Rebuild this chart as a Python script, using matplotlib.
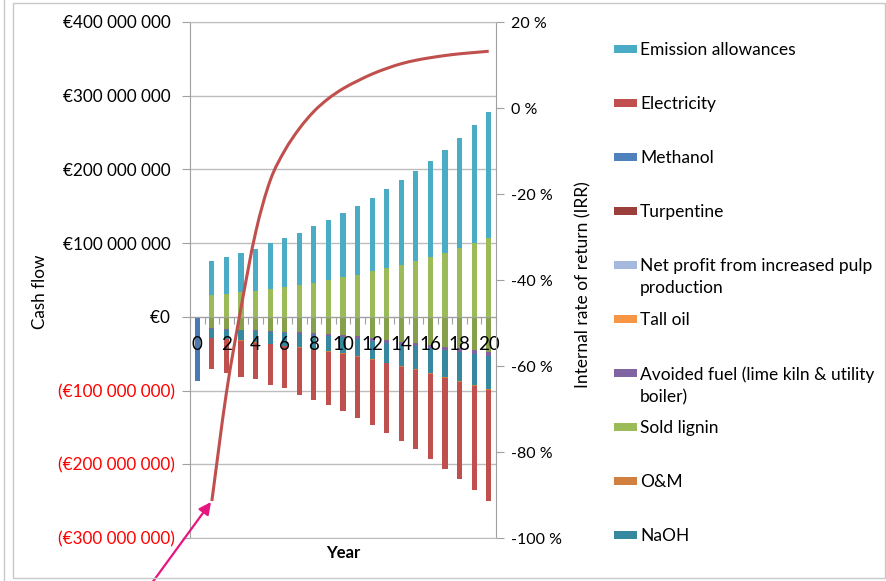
import numpy as np
import matplotlib
matplotlib.use("Agg")
import matplotlib.pyplot as plt
from matplotlib.patches import Rectangle, PathPatch
from matplotlib.path import Path

plt.rcParams['font.family'] = ['Lato', 'DejaVu Sans']

W, H = 887, 581

# ---------------- data (million EUR per year) ----------------
years = list(range(21))
investment = [-87] + [0] * 20
emission_allowances = [0, 46.2, 49.3, 53.4, 57.6, 62.1, 66.2, 71.2, 76.5, 81.5, 86.5,
                       92.8, 99.6, 106.9, 114.2, 121.9, 130.9, 139.9, 149.8, 159.9, 169.8]
sold_lignin = [0, 29.2, 31.5, 33.3, 35.1, 37.8, 40.5, 43.2, 46.5, 49.6, 54.1,
               57.3, 61.8, 65.9, 70.9, 75.4, 80.8, 86.7, 93.1, 100.3, 107.6]
other_costs = [0, -15.7, -16.5, -17.3, -18.2, -19.1, -20.1, -21.1, -22.2, -23.3, -24.6,
               -26.2, -28.5, -31.0, -33.5, -35.5, -38.0, -40.3, -42.6, -45.0, -47.4]
avoided_fuel = [0, -0.5, -0.8, -1.2, -1.5, -1.8, -2.0, -2.3, -2.6, -2.9, -3.1,
                -3.4, -3.7, -4.0, -4.3, -4.6, -4.9, -5.2, -5.5, -5.8, -6.1]
naoh = [0, -12.2, -12.6, -13.5, -14.8, -15.8, -16.8, -18.0, -19.3, -20.5, -22.0,
        -23.5, -25.0, -27.0, -29.0, -31.2, -33.5, -36.0, -38.8, -41.6, -44.7]
o_and_m = [0, -0.4, -0.4, -0.5, -0.5, -0.6, -0.6, -0.7, -0.7, -0.8, -0.8,
           -0.9, -0.9, -1.0, -1.0, -1.1, -1.2, -1.2, -1.3, -1.4, -1.5]
electricity = [0, -42.0, -45.3, -48.8, -49.7, -54.9, -56.9, -63.3, -68.0, -72.5, -76.8,
               -82.7, -89.0, -94.3, -100.7, -107.5, -115.2, -123.3, -132.2, -141.7, -150.4]
methanol = [0] * 21
turpentine = [0] * 21
net_profit_pulp = [0] * 21
tall_oil = [0] * 21

irr = [np.nan, -91.4, -66.2, -46.5, -29.0, -16.9, -9.9, -4.8, -0.8, 2.2, 4.5,
       6.3, 7.9, 9.2, 10.3, 11.1, 11.7, 12.2, 12.6, 12.9, 13.2]

# colours
c_emis, c_elec, c_meth, c_turp = '#4BACC6', '#C0504D', '#4F81BD', '#9C3F3C'
c_net, c_tall, c_avoid, c_lign = '#A5B9DE', '#F79646', '#8064A2', '#9BBB59'
c_om, c_naoh, c_inv, c_other = '#D07F3E', '#35889E', '#4A79B3', '#87A04C'

series = [
    ("Investment", investment, c_inv),
    ("Other costs", other_costs, c_other),
    ("NaOH", naoh, c_naoh),
    ("O&M", o_and_m, c_om),
    ("Sold lignin", sold_lignin, c_lign),
    ("Avoided fuel (lime kiln & utility\nboiler)", avoided_fuel, c_avoid),
    ("Tall oil", tall_oil, c_tall),
    ("Net profit from increased pulp\nproduction", net_profit_pulp, c_net),
    ("Turpentine", turpentine, c_turp),
    ("Methanol", methanol, c_meth),
    ("Electricity", electricity, c_elec),
    ("Emission allowances", emission_allowances, c_emis),
]
neg_order = ["Investment", "Other costs", "Avoided fuel (lime kiln & utility\nboiler)",
             "NaOH", "O&M", "Electricity"]

fig = plt.figure(figsize=(W / 100, H / 100), dpi=100)
ax = fig.add_axes([190 / W, 1 - 538 / H, 306 / W, 516 / H])

x = np.array(years)
pos_bottom = np.zeros(21)
neg_bottom = np.zeros(21)
bw = 0.36
lookup = {s[0]: s for s in series}
for name, vals, col in series:
    v = np.array(vals, dtype=float)
    p = np.where(v > 0, v, 0)
    if p.any():
        ax.bar(x, p, bw, bottom=pos_bottom, color=col, zorder=1, linewidth=0)
        pos_bottom += p
for name in neg_order:
    _, vals, col = lookup[name]
    v = np.array(vals, dtype=float)
    n = np.where(v < 0, v, 0)
    if n.any():
        ax.bar(x, n, bw, bottom=neg_bottom, color=col, zorder=1, linewidth=0)
        neg_bottom += n

ax.set_xlim(-0.5, 20.5)
ax.set_ylim(-300, 400)
gridc = '#BDBDBD'
axc = '#A0A0A0'
yt = np.arange(-300, 401, 100)
for t in yt:
    ax.axhline(t, color=gridc, lw=1, zorder=0)


def eur(v):
    s = f"{int(round(abs(v) * 1e6)):,}".replace(',', ' ')
    return f"(€{s})" if v < 0 else f"€{s} "


ax.set_yticks(yt)
ax.set_yticklabels([eur(t) for t in yt])
for lab, t in zip(ax.get_yticklabels(), yt):
    lab.set_color('#FF0000' if t < 0 else 'black')
ax.tick_params(axis='y', direction='out', length=6, color=axc, pad=5, labelsize=12.3)

ax.spines['bottom'].set_position(('data', 0))
ax.spines['bottom'].set_color(axc)
ax.spines['left'].set_color(axc)
ax.spines['top'].set_visible(False)
ax.spines['right'].set_visible(False)
ax.set_xticks(np.arange(-0.5, 20.6, 1))
ax.set_xticklabels([])
ax.set_xticks(np.arange(0, 21, 2), minor=True)
ax.set_xticklabels([str(v) for v in range(0, 21, 2)], minor=True)
ax.tick_params(axis='x', which='major', direction='out', length=5, color=axc)
ax.tick_params(axis='x', which='minor', length=0, pad=14, labelsize=13.5)

ax2 = ax.twinx()
# smoothed IRR line (Excel-style cubic Bezier through the data points)
pts = np.array([(xx, yy) for xx, yy in zip(years, irr) if not np.isnan(yy)])
verts = [tuple(pts[0])]
codes = [Path.MOVETO]
n = len(pts)
for i in range(n - 1):
    p_prev = pts[i - 1] if i > 0 else pts[i]
    p0, p1 = pts[i], pts[i + 1]
    p_next = pts[i + 2] if i + 2 < n else pts[i + 1]
    c1 = p0 + (p1 - p_prev) / 6.0
    c2 = p1 - (p_next - p0) / 6.0
    verts += [tuple(c1), tuple(c2), tuple(p1)]
    codes += [Path.CURVE4] * 3
ax2.add_patch(PathPatch(Path(verts, codes), fill=False, edgecolor='#C0504D',
                        lw=2.2, capstyle='butt', joinstyle='round', zorder=3))
ax2.set_ylim(-100, 20)
ax2.set_yticks(np.arange(-100, 21, 20))
ax2.set_yticklabels([f"{v} %" for v in range(-100, 21, 20)])
ax2.tick_params(axis='y', direction='out', length=6, color=axc, pad=5, labelsize=11.5)
for sp in ['top', 'bottom', 'right']:
    ax2.spines[sp].set_color(gridc if sp != 'right' else axc)
ax2.spines['left'].set_visible(False)

# axis titles
fig.text(40 / W, 1 - 292 / H, "Cash flow", rotation=90, ha='center', va='center', size=12.3)
fig.text(583 / W, 1 - 285 / H, "Internal rate of return (IRR)", rotation=90,
         ha='center', va='center', size=12.5)
fig.text(343 / W, 1 - 553 / H, "Year", ha='center', va='center', size=12, weight='bold')

# legend (manual, Excel-like)
legend_items = [
    ("Emission allowances", c_emis),
    ("Electricity", c_elec),
    ("Methanol", c_meth),
    ("Turpentine", c_turp),
    ("Net profit from increased pulp\nproduction", c_net),
    ("Tall oil", c_tall),
    ("Avoided fuel (lime kiln & utility\nboiler)", c_avoid),
    ("Sold lignin", c_lign),
    ("O&M", c_om),
    ("NaOH", c_naoh),
]
for i, (lab, col) in enumerate(legend_items):
    yc = 49 + i * 54.0
    fig.add_artist(Rectangle((614 / W, 1 - (yc + 4) / H), 23 / W, 8 / H,
                             transform=fig.transFigure, color=col, lw=0))
    fig.text(640 / W, 1 - (yc - 7) / H, lab, ha='left', va='top', size=12.5,
             linespacing=1.5)

# chart frame
fig.add_artist(Rectangle((13 / W, 3 / H), (885 - 13) / W, (578 - 3) / H,
                         transform=fig.transFigure, fill=False, ec='#C8C8C8', lw=1))
fig.add_artist(plt.Line2D([4 / W, 4 / W], [0, 1], transform=fig.transFigure,
                          color='#C8C8C8', lw=1))

# magenta arrow pointing to the start of the IRR curve
ax.annotate('', xy=(211, H - 502), xycoords='figure pixels',
            xytext=(149, -6), textcoords='figure pixels',
            arrowprops=dict(arrowstyle='-|>', color='#E6157F', lw=1.6,
                            mutation_scale=18, shrinkA=0, shrinkB=0),
            annotation_clip=False)

fig.savefig('out.png', dpi=100)
